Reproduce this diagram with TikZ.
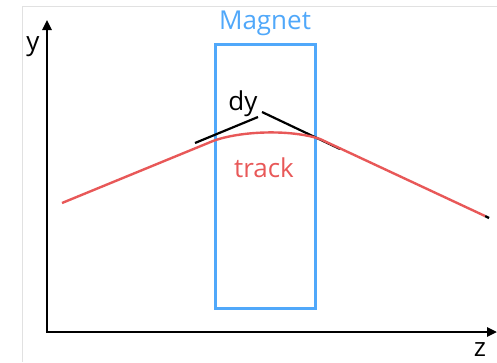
\documentclass[tikz,border=0pt]{standalone}
\usepackage{fontspec}
\setmainfont{Open Sans}
\usetikzlibrary{arrows.meta}
\definecolor{magblue}{RGB}{80,168,250}
\definecolor{trackred}{RGB}{232,88,88}
\definecolor{framegray}{RGB}{225,225,225}
\begin{document}
\begin{tikzpicture}[x=1pt,y=-1pt,
  axis/.style={line width=2.4pt,-{Triangle[length=10pt,width=9pt]}},
  lbl/.style={font=\fontsize{26}{30}\selectfont,inner sep=0pt},
  trk/.style={trackred,line width=2.4pt},
  tang/.style={black,line width=2.2pt}]
\useasboundingbox (0,0) rectangle (497,362);
% light frame
\draw[framegray,line width=1pt] (22,362) -- (22,6) -- (497,6);
% axes
\coordinate (O) at (47,332);
\coordinate (ytip) at (47,20);
\coordinate (ztip) at (497,332);
\draw[axis] (O) -- (ytip);
\draw[axis] ([xshift=-1.2pt]O) -- (ztip);
\node[lbl,anchor=base] (ylab) at (33,50) {y};
\node[lbl,anchor=base] (zlab) at (480,356) {z};
% magnet
\node[draw=magblue,line width=3pt,minimum width=100pt,minimum height=264pt,inner sep=0pt] (mag) at (265,176) {};
\node[lbl,text=magblue,anchor=base] (maglab) at (265,29) {Magnet};
% tangent lines
\coordinate (tl) at (195,143);
\coordinate (tm1) at (258,117);
\coordinate (tm2) at (262,112);
\coordinate (tr) at (340,149);
\draw[tang] (tl) -- (tm1);
\draw[tang] (tm2) -- (tr);
\node[lbl,anchor=base] (dy) at (243,110) {dy};
% track
\coordinate (a) at (62,203);
\coordinate (b) at (213,141);
\coordinate (c) at (320,139);
\coordinate (d) at (485,216);
\coordinate (d2) at (489,218);
\draw[black,line width=2.4pt] (d) -- (d2);
\draw[trk] (a) -- (b) .. controls (240,131) and (290,129) .. (c) -- (d);
\node[lbl,text=trackred,anchor=base] (tracklab) at (264,177) {track};
\end{tikzpicture}
\end{document}
